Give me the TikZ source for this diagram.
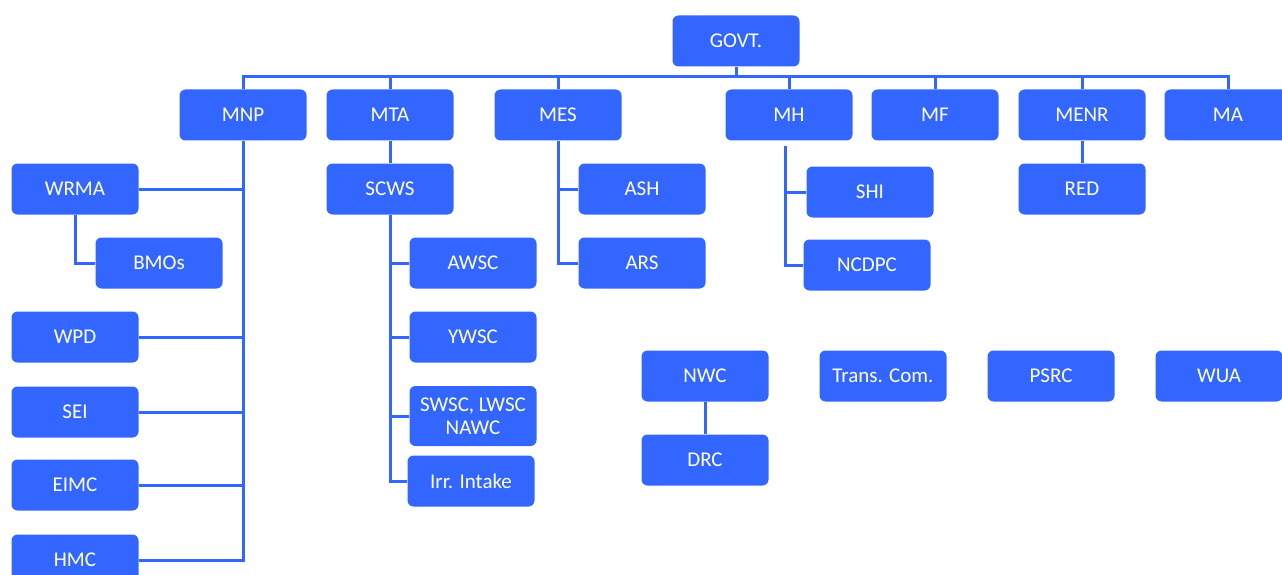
\documentclass[tikz,border=0pt]{standalone}
\usepackage{fontspec}
\setmainfont{Carlito}
\usepackage{xcolor}
\definecolor{orgblue}{HTML}{3366FF}

\begin{document}
\begin{tikzpicture}[x=1pt, y=-1pt,
    box/.style={fill=orgblue, rounded corners=6pt, minimum width=127pt, minimum height=51pt,
      inner sep=0pt, text=white, align=center, font=\fontsize{21}{23}\selectfont},
    link/.style={draw=orgblue, line width=3pt}]
      \clip (0,0) rectangle (1282,575);
      \coordinate (bus) at (0,77);
      % Top
      \node[box] (govt) at (736,41) {GOVT.};
      % Ministries
      \node[box] (mnp) at (243,115) {MNP};
      \node[box] (mta) at (390,115) {MTA};
      \node[box] (mes) at (558,115) {MES};
      \node[box] (mh) at (789,115) {MH};
      \node[box] (mf) at (935,115) {MF};
      \node[box] (menr) at (1082,115) {MENR};
      \node[box] (ma) at (1228,115) {MA};
      % Under MNP
      \node[box] (wrma) at (75,189) {WRMA};
      \node[box] (bmos) at (159,263) {BMOs};
      \node[box] (wpd) at (75,337) {WPD};
      \node[box] (sei) at (75,412) {SEI};
      \node[box] (eimc) at (75,485) {EIMC};
      \node[box] (hmc) at (75,560) {HMC};
      % Under MTA
      \node[box] (scws) at (390,189) {SCWS};
      \node[box] (awsc) at (473,263) {AWSC};
      \node[box] (ywsc) at (473,337) {YWSC};
      \node[box, minimum height=60pt] (swsc) at (473,416) {SWSC, LWSC\\NAWC};
      \node[box] (irr) at (471,481) {Irr. Intake};
      % Under MES, MH, MENR
      \node[box] (ash) at (642,189) {ASH};
      \node[box] (ars) at (642,263) {ARS};
      \node[box] (shi) at (870,192) {SHI};
      \node[box] (ncdpc) at (867,265) {NCDPC};
      \node[box] (red) at (1082,189) {RED};
      % Others
      \node[box] (nwc) at (705,376) {NWC};
      \node[box] (drc) at (705,460) {DRC};
      \node[box] (trans) at (883,376) {Trans. Com.};
      \node[box] (psrc) at (1051,376) {PSRC};
      \node[box] (wua) at (1219,376) {WUA};

      % Bus from GOVT. to the ministries
      \draw[link] (govt.south) -- (govt |- bus);
      \draw[link] (mnp.north) -- (mnp |- bus) -- (ma |- bus) -- (ma.north);
      \foreach \n in {mta,mes,mh,mf,menr}
        \draw[link] (\n.north) -- (\n |- bus);
      % MNP branch
      \draw[link] (mnp.south) |- (hmc.east);
      \foreach \n in {wrma,wpd,sei,eimc}
        \draw[link] (\n.east) -- (\n -| mnp);
      \draw[link] (wrma.south) |- (bmos.west);
      % MTA branch
      \draw[link] (mta) -- (scws);
      \draw[link] (scws.south) |- (irr.west);
      \foreach \n in {awsc,ywsc,swsc}
        \draw[link] (\n.west) -- (\n -| scws);
      % MES branch
      \draw[link] (mes.south) |- (ars.west);
      \draw[link] (ash.west) -- (ash -| mes);
      % MH branch
      \coordinate (mhtop) at ([shift={(-4,5)}]mh.south);
      \draw[link] (mhtop) |- (ncdpc.west);
      \draw[link] (shi.west) -- (shi -| mhtop);
      % single links
      \draw[link] (menr) -- (red);
      \draw[link] (nwc) -- (drc);
\end{tikzpicture}
\end{document}
